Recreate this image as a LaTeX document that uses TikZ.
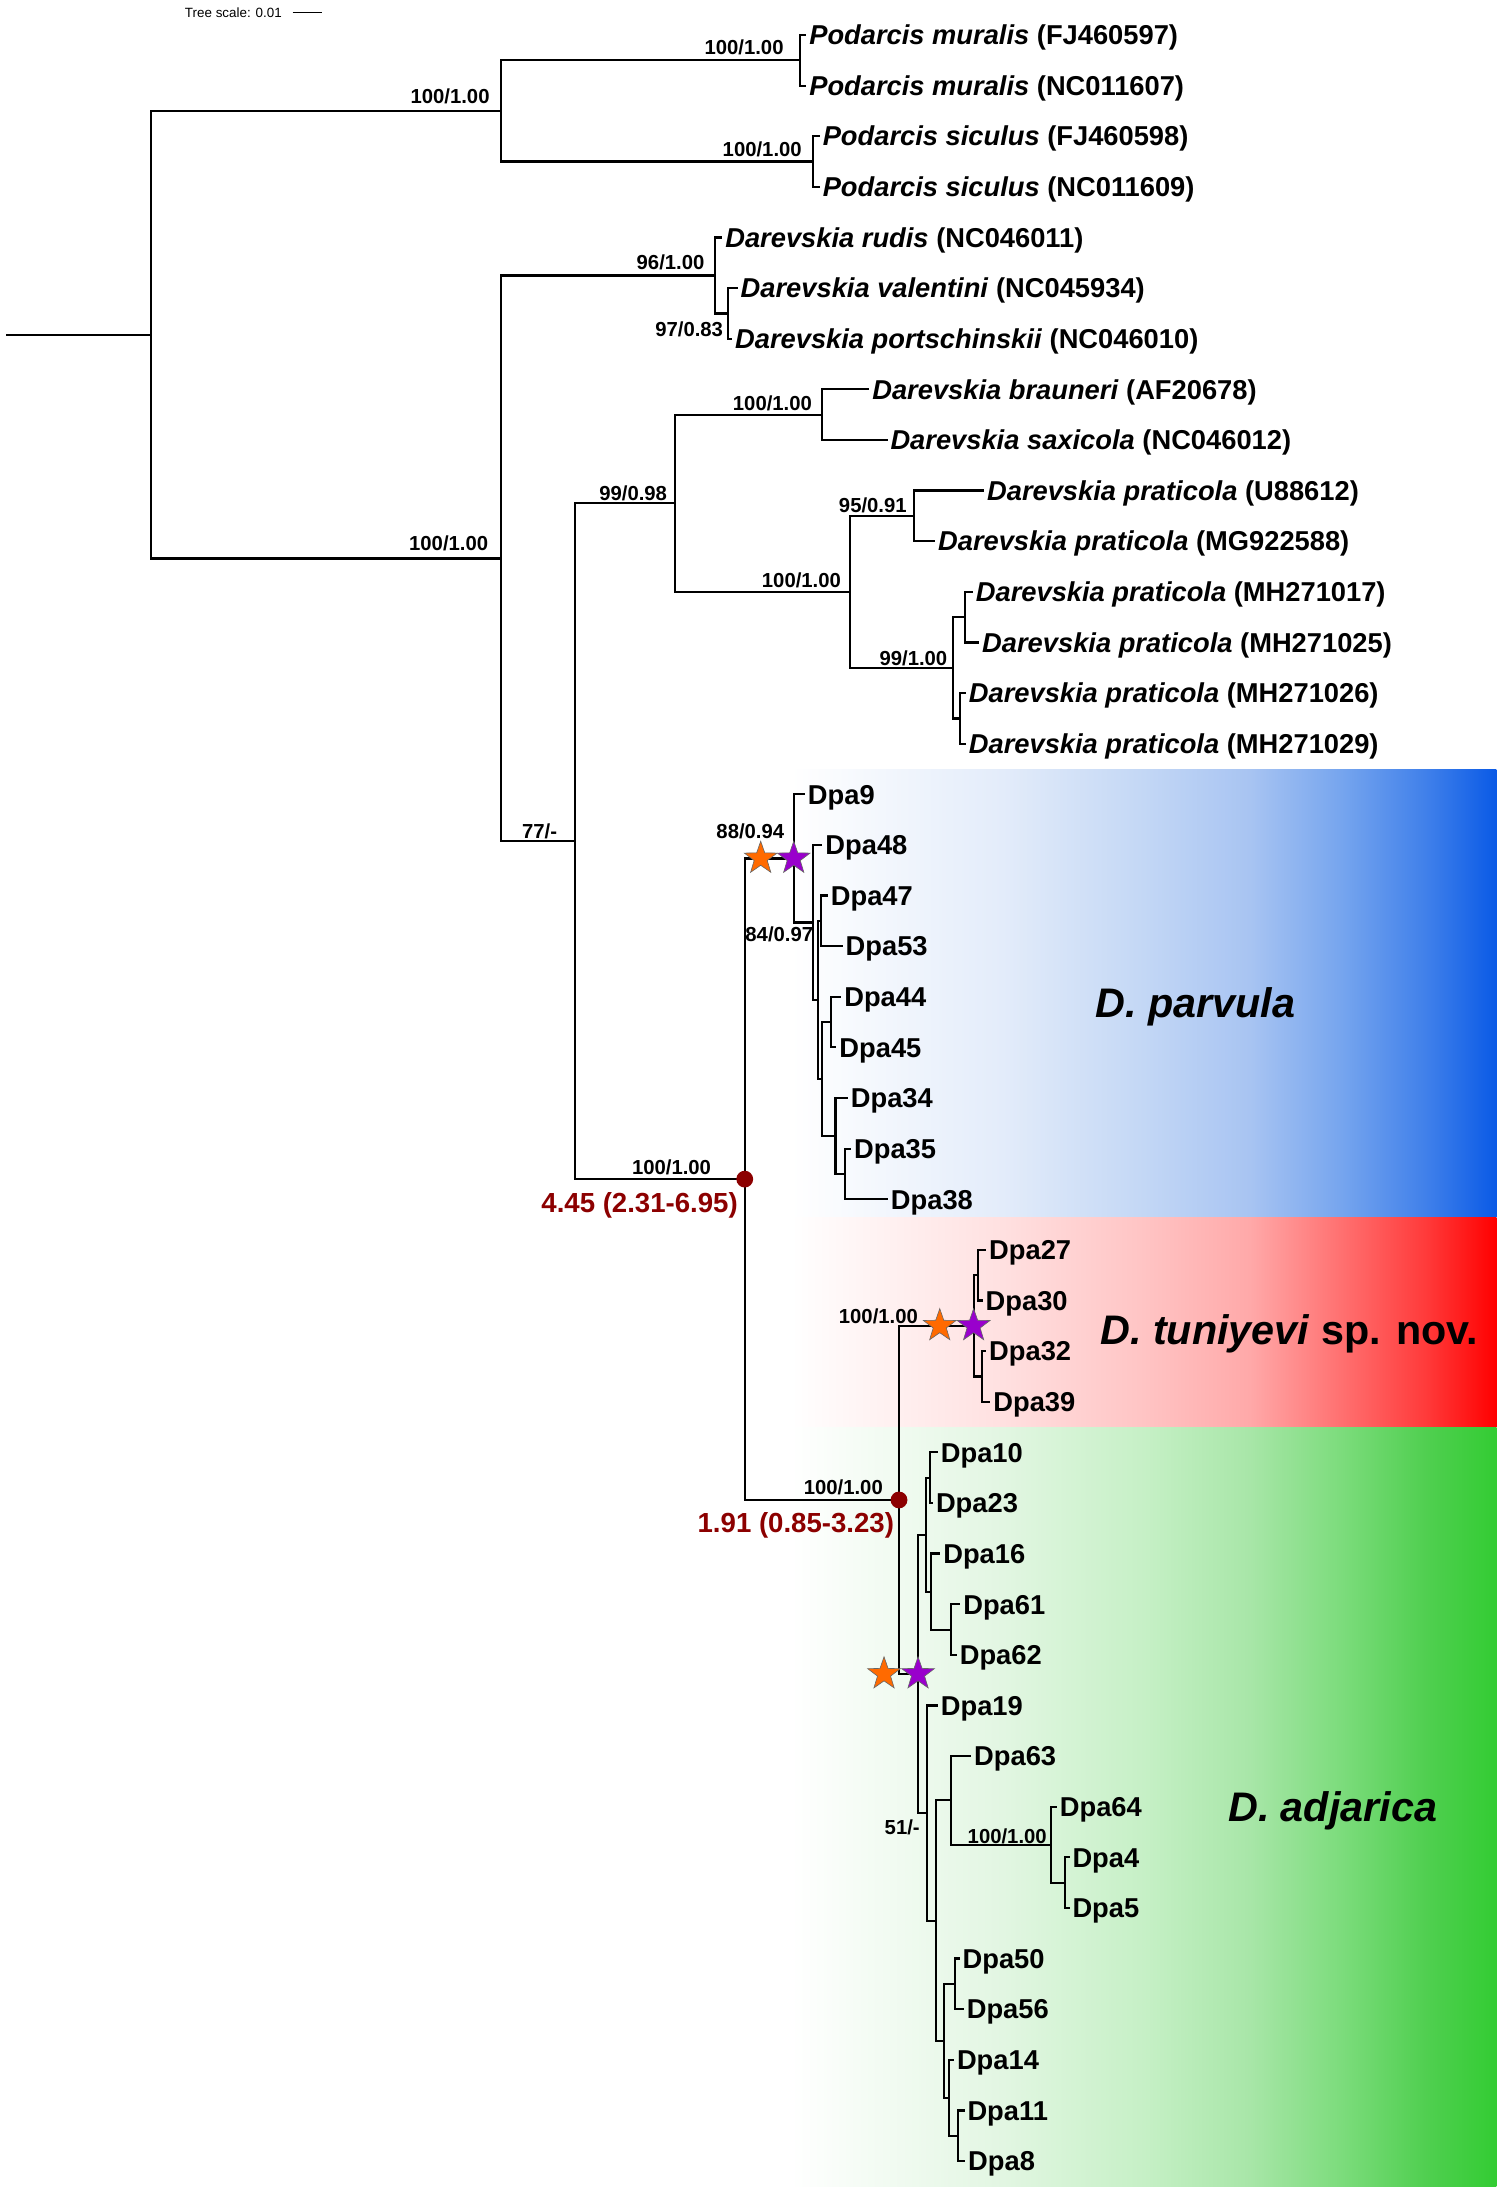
\documentclass[tikz,border=0pt]{standalone}
\usepackage{fontspec}
\setmainfont{Liberation Sans}
\usetikzlibrary{shapes.geometric}
\definecolor{dred}{RGB}{140,0,0}
\definecolor{starorange}{RGB}{255,106,0}
\definecolor{starpurple}{RGB}{153,0,204}
\definecolor{bA}{HTML}{E3ECFA}\definecolor{bB}{HTML}{C3D7F5}\definecolor{bC}{HTML}{A8C4F2}
\definecolor{bD}{HTML}{76A5EE}\definecolor{bE}{HTML}{4080EA}\definecolor{bF}{HTML}{0A5AE6}
\definecolor{rA}{HTML}{FFE0E0}\definecolor{rB}{HTML}{FFC4C4}\definecolor{rC}{HTML}{FFA9A9}
\definecolor{rD}{HTML}{FF7070}\definecolor{rE}{HTML}{FF3A3A}\definecolor{rF}{HTML}{FF0000}
\definecolor{gA}{HTML}{E2F6E2}\definecolor{gB}{HTML}{C6F0C6}\definecolor{gC}{HTML}{A8E6A8}
\definecolor{gD}{HTML}{7CDC7C}\definecolor{gE}{HTML}{50CF50}\definecolor{gF}{HTML}{33CC33}
\pgfdeclarehorizontalshading{blueshade}{100bp}{color(0bp)=(white); color(25bp)=(white); color(40bp)=(bA); color(50bp)=(bB); color(57.5bp)=(bC); color(64bp)=(bD); color(70bp)=(bE); color(75bp)=(bF); color(100bp)=(bF)}
\pgfdeclarehorizontalshading{redshade}{100bp}{color(0bp)=(white); color(25bp)=(white); color(40bp)=(rA); color(50bp)=(rB); color(57.5bp)=(rC); color(64bp)=(rD); color(70bp)=(rE); color(75bp)=(rF); color(100bp)=(rF)}
\pgfdeclarehorizontalshading{greenshade}{100bp}{color(0bp)=(white); color(25bp)=(white); color(40bp)=(gA); color(50bp)=(gB); color(57.5bp)=(gC); color(64bp)=(gD); color(70bp)=(gE); color(75bp)=(gF); color(100bp)=(gF)}
\tikzset{
  br/.style={line width=1.1pt},
  leaf/.style={anchor=west, inner xsep=1.3pt, inner ysep=0pt, text height=9.77pt, text depth=0pt, font=\fontsize{13.65}{14}\selectfont\bfseries},
  sup/.style={anchor=base, inner sep=0pt, font=\fontsize{10.15}{11}\selectfont\bfseries},
  age/.style={anchor=base, inner sep=0pt, text=dred, font=\fontsize{13.8}{14}\selectfont\bfseries},
  clade/.style={anchor=base, inner sep=0pt, font=\fontsize{20.65}{22}\selectfont\bfseries},
  agedot/.style={circle, fill=dred, inner sep=0pt, minimum size=8.4pt},
  ostar/.style={star, star points=5, star point ratio=2.5, fill=starorange, draw=black!60, line width=0.3pt, minimum size=17.2pt, inner sep=0pt},
  pstar/.style={star, star points=5, star point ratio=2.5, fill=starpurple, draw=black!60, line width=0.3pt, minimum size=17.2pt, inner sep=0pt},
}
\begin{document}
\begin{tikzpicture}[x=0.7pt,y=-0.7pt]
\useasboundingbox (0,0) rectangle (1074,1568);
% clade panels
\shade[shading=blueshade] (565,549.9) rectangle (1069,870);
\shade[shading=redshade] (565,870) rectangle (1069,1019.8);
\shade[shading=greenshade] (565,1019.8) rectangle (1069,1562);
% tree scale
\node[anchor=base east, inner sep=0pt, font=\fontsize{6.7}{7}\selectfont] (ts) at (201.6,12.4) {Tree scale: 0.01};
\coordinate (sb1) at (209,9); \coordinate (sb2) at (229.7,9);
\draw[line width=0.6pt] (sb1) -- (sb2);
% internal nodes
\coordinate (root) at (4.5,239.1);
\coordinate (A) at (108,239.1);
\coordinate (Pod) at (358,79.3);
\coordinate (Mur) at (571.5,43.1);
\coordinate (Sic) at (581,115.4);
\coordinate (B) at (358,398.9);
\coordinate (Rud) at (510.6,196.8);
\coordinate (Val) at (520,223.9);
\coordinate (C) at (411,600.9);
\coordinate (D) at (482,359.5);
\coordinate (E) at (587,296.2);
\coordinate (F) at (607,422.8);
\coordinate (G) at (653,368.5);
\coordinate (H) at (681,477);
\coordinate (I) at (689.5,440.9);
\coordinate (J) at (686,513.2);
\coordinate (K) at (532,842.3);
\coordinate (L) at (567,613.2);
\coordinate (M) at (580.7,659);
\coordinate (N) at (584.3,714.3);
\coordinate (O) at (586.7,657.8);
\coordinate (P) at (587.2,770.8);
\coordinate (Q) at (593.9,730.1);
\coordinate (R) at (596.9,811.5);
\coordinate (S) at (603.4,838.6);
\coordinate (U) at (642.2,1071.5);
\coordinate (V) at (695.5,947.1);
\coordinate (W) at (698.7,910.9);
\coordinate (X) at (701.5,983.3);
\coordinate (Y) at (655.8,1195.8);
\coordinate (Z) at (661.2,1096.3);
\coordinate (AA) at (664.1,1055.6);
\coordinate (AB) at (665.3,1137);
\coordinate (AC) at (679.6,1164.1);
\coordinate (AD) at (662.4,1295.2);
\coordinate (AE) at (668.4,1372);
\coordinate (AF) at (679.6,1286.1);
\coordinate (AG) at (751,1317.8);
\coordinate (AH) at (760.5,1344.9);
\coordinate (AI) at (674.3,1457.9);
\coordinate (AJ) at (682,1417.2);
\coordinate (AK) at (677.9,1498.6);
\coordinate (AL) at (684.3,1525.7);
% leaves
\node[leaf] (l1) at (576,25) {\textit{Podarcis muralis} (FJ460597)};
\node[leaf] (l2) at (576,61.2) {\textit{Podarcis muralis} (NC011607)};
\node[leaf] (l3) at (585.6,97.3) {\textit{Podarcis siculus} (FJ460598)};
\node[leaf] (l4) at (585.6,133.5) {\textit{Podarcis siculus} (NC011609)};
\node[leaf] (l5) at (516,169.6) {\textit{Darevskia rudis} (NC046011)};
\node[leaf] (l6) at (527,205.8) {\textit{Darevskia valentini} (NC045934)};
\node[leaf] (l7) at (523,242.0) {\textit{Darevskia portschinskii} (NC046010)};
\node[leaf] (l8) at (621,278.1) {\textit{Darevskia brauneri} (AF20678)};
\node[leaf] (l9) at (634,314.3) {\textit{Darevskia saxicola} (NC046012)};
\node[leaf] (l10) at (703,350.4) {\textit{Darevskia praticola} (U88612)};
\node[leaf] (l11) at (668,386.6) {\textit{Darevskia praticola} (MG922588)};
\node[leaf] (l12) at (695,422.8) {\textit{Darevskia praticola} (MH271017)};
\node[leaf] (l13) at (699.5,458.9) {\textit{Darevskia praticola} (MH271025)};
\node[leaf] (l14) at (690,495.1) {\textit{Darevskia praticola} (MH271026)};
\node[leaf] (l15) at (690,531.2) {\textit{Darevskia praticola} (MH271029)};
\node[leaf] (l16) at (575,567.4) {Dpa9};
\node[leaf] (l17) at (587.5,603.6) {Dpa48};
\node[leaf] (l18) at (591.4,639.7) {Dpa47};
\node[leaf] (l19) at (602,675.9) {Dpa53};
\node[leaf] (l20) at (601,712.0) {Dpa44};
\node[leaf] (l21) at (597.5,748.2) {Dpa45};
\node[leaf] (l22) at (605.7,784.4) {Dpa34};
\node[leaf] (l23) at (608,820.5) {Dpa35};
\node[leaf] (l24) at (634.3,856.7) {Dpa38};
\node[leaf] (l25) at (704.5,892.8) {Dpa27};
\node[leaf] (l26) at (702,929.0) {Dpa30};
\node[leaf] (l27) at (704.5,965.2) {Dpa32};
\node[leaf] (l28) at (707.5,1001.3) {Dpa39};
\node[leaf] (l29) at (670,1037.5) {Dpa10};
\node[leaf] (l30) at (666.5,1073.6) {Dpa23};
\node[leaf] (l31) at (671.7,1109.8) {Dpa16};
\node[leaf] (l32) at (686,1146.0) {Dpa61};
\node[leaf] (l33) at (683.5,1182.1) {Dpa62};
\node[leaf] (l34) at (670,1218.3) {Dpa19};
\node[leaf] (l35) at (693.8,1254.4) {Dpa63};
\node[leaf] (l36) at (755,1290.6) {Dpa64};
\node[leaf] (l37) at (764,1326.8) {Dpa4};
\node[leaf] (l38) at (764,1362.9) {Dpa5};
\node[leaf] (l39) at (685.5,1399.1) {Dpa50};
\node[leaf] (l40) at (688.5,1435.2) {Dpa56};
\node[leaf] (l41) at (681.5,1471.4) {Dpa14};
\node[leaf] (l42) at (689,1507.6) {Dpa11};
\node[leaf] (l43) at (689.5,1543.7) {Dpa8};
% branches
\draw[br] (root) -- (A);
\foreach \p/\c in {A/Pod, A/B, Pod/Mur, Pod/Sic, Mur/l1.west, Mur/l2.west, Sic/l3.west, Sic/l4.west,
  B/Rud, B/C, Rud/l5.west, Rud/Val, Val/l6.west, Val/l7.west,
  C/D, C/K, D/E, D/F, E/l8.west, E/l9.west, F/G, F/H, G/l10.west, G/l11.west,
  H/I, H/J, I/l12.west, I/l13.west, J/l14.west, J/l15.west,
  K/L, K/U, L/l16.west, L/M, M/l17.west, M/N, N/O, N/P, O/l18.west, O/l19.west,
  P/Q, P/R, Q/l20.west, Q/l21.west, R/l22.west, R/S, S/l23.west, S/l24.west,
  U/V, U/Y, V/W, V/X, W/l25.west, W/l26.west, X/l27.west, X/l28.west,
  Y/Z, Y/AD, Z/AA, Z/AB, AA/l29.west, AA/l30.west, AB/l31.west, AB/AC, AC/l32.west, AC/l33.west,
  AD/l34.west, AD/AE, AE/AF, AE/AI, AF/l35.west, AF/AG, AG/l36.west, AG/AH, AH/l37.west, AH/l38.west,
  AI/AJ, AI/AK, AJ/l39.west, AJ/l40.west, AK/l41.west, AK/AL, AL/l42.west, AL/l43.west}
  \draw[br] (\p) |- (\c);
% support values
\node[sup] (s1) at (321.5,74.2) {100/1.00};
\node[sup] (s2) at (531.5,38.8) {100/1.00};
\node[sup] (s3) at (544.5,111.8) {100/1.00};
\node[sup] (s4) at (479,192.2) {96/1.00};
\node[sup] (s5) at (492.3,240.2) {97/0.83};
\node[sup] (s6) at (320.5,393.2) {100/1.00};
\node[sup] (s7) at (385.5,599.2) {77/-};
\node[sup] (s8) at (452.3,357.5) {99/0.98};
\node[sup] (s9) at (551.8,293.2) {100/1.00};
\node[sup] (s10) at (623.5,366.2) {95/0.91};
\node[sup] (s11) at (572.5,419.4) {100/1.00};
\node[sup] (s12) at (652.5,475.2) {99/1.00};
\node[sup] (s13) at (536,599.2) {88/0.94};
\node[sup] (s14) at (556.7,672.2) {84/0.97};
\node[sup] (s15) at (479.7,839.2) {100/1.00};
\node[sup] (s16) at (627.5,945.2) {100/1.00};
\node[sup] (s17) at (602.4,1067.9) {100/1.00};
\node[sup] (s18) at (644.5,1310.7) {51/-};
\node[sup] (s19) at (719.5,1317.2) {100/1.00};
% divergence times
\node[agedot] (dK) at (K) {};
\node[agedot] (dU) at (U) {};
\node[age] (t1) at (456.9,866) {4.45 (2.31-6.95)};
\node[age] (t2) at (568.5,1094.4) {1.91 (0.85-3.23)};
% stars
\node[ostar] (o1) at (543.4,613.2) {};
\node[pstar] (p1) at (567,613.2) {};
\node[ostar] (o2) at (671.3,947.1) {};
\node[pstar] (p2) at (695.5,947.1) {};
\node[ostar] (o3) at (631.5,1195.8) {};
\node[pstar] (p3) at (655.8,1195.8) {};
% clade names
\node[clade] (c1) at (854,727) {\textit{D. parvula}};
\node[clade] (c2) at (921,960.7) {\textit{D. tuniyevi} sp. nov.};
\node[clade] (c3) at (952,1301.3) {\textit{D. adjarica}};
\end{tikzpicture}
\end{document}
